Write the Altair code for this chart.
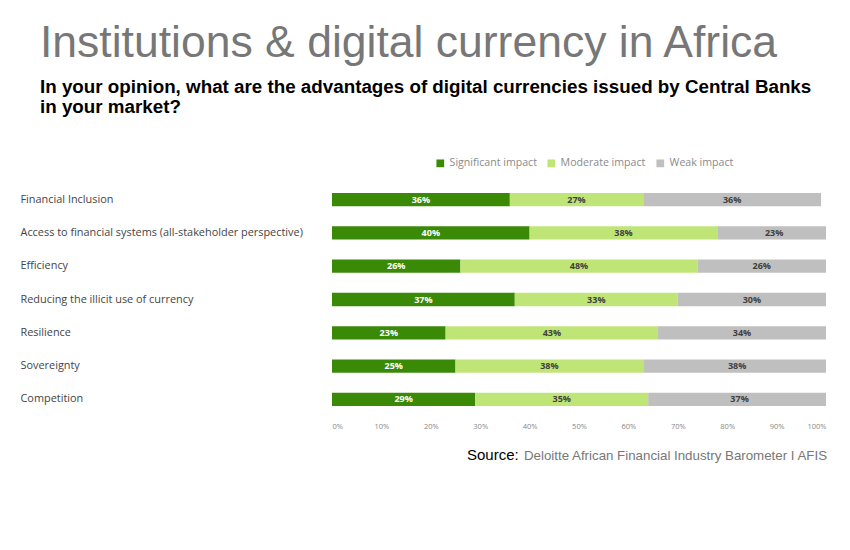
import altair as alt
import pandas as pd

categories = [
    "Financial Inclusion",
    "Access to financial systems (all-stakeholder perspective)",
    "Efficiency",
    "Reducing the illicit use of currency",
    "Resilience",
    "Sovereignty",
    "Competition",
]
series = ["Significant impact", "Moderate impact", "Weak impact"]
significant = [36, 40, 26, 37, 23, 25, 29]
moderate = [27, 38, 48, 33, 43, 38, 35]
weak = [36, 23, 26, 30, 34, 38, 37]
colors = ["#3a8a08", "#c0e577", "#bfbfbf"]
label_colors = ["#ffffff", "#404040", "#404040"]
x_ticks = [0, 10, 20, 30, 40, 50, 60, 70, 80, 90, 100]

rows = []
for i, cat in enumerate(categories):
    start = 0
    for s, vals, lc in zip(series, [significant, moderate, weak], label_colors):
        v = vals[i]
        rows.append({"category": cat, "series": s, "value": v,
                     "start": start, "end": start + v,
                     "mid": start + v / 2, "label": f"{v}%", "lc": lc})
        start += v
df = pd.DataFrame(rows)

W, H = 494, 233

xscale = alt.Scale(domain=[0, 100], nice=False)
yscale = alt.Scale(domain=categories, paddingInner=0.6, paddingOuter=0.3)

base = alt.Chart(df)

bars = base.mark_bar(clip=True).encode(
    x=alt.X("start:Q", scale=xscale,
            axis=alt.Axis(values=x_ticks, labelExpr="datum.value + '%'", title=None,
                          grid=False, domain=False, ticks=False, labelPadding=6,
                          labelFontSize=7.5, labelColor="#888888", labelFont="Open Sans")),
    x2="end:Q",
    y=alt.Y("category:N", scale=yscale, sort=categories,
            axis=alt.Axis(title=None, domain=False, ticks=False, labelAlign="left",
                          labelPadding=312, labelFontSize=10.9, labelColor="#444444",
                          labelFont="Open Sans", labelLimit=400)),
    color=alt.Color("series:N", scale=alt.Scale(domain=series, range=colors),
                    legend=alt.Legend(title=None, orient="none", direction="horizontal",
                                      legendX=103, legendY=-25, symbolType="square",
                                      symbolSize=60, symbolStrokeWidth=0,
                                      labelFontSize=10.6, labelColor="#8a8a8a",
                                      labelFont="Open Sans", columnPadding=9,
                                      labelOffset=4)),
)

labels = base.mark_text(font="Open Sans", fontSize=9, fontWeight="bold").encode(
    x=alt.X("mid:Q", scale=xscale),
    y=alt.Y("category:N", scale=yscale, sort=categories),
    text="label:N",
    color=alt.Color("lc:N", scale=None),
)

src1 = alt.Chart(pd.DataFrame({"t": ["Source:"]})).mark_text(
    align="left", baseline="alphabetic", font="Liberation Sans", fontSize=15, color="#000000"
).encode(x=alt.value(135), y=alt.value(277), text="t:N")
src2 = alt.Chart(pd.DataFrame({"t": ["Deloitte African Financial Industry Barometer I AFIS"]})).mark_text(
    align="left", baseline="alphabetic", font="Liberation Sans", fontSize=13.3, color="#777777"
).encode(x=alt.value(192), y=alt.value(277), text="t:N")

chart = alt.layer(bars, labels, src1, src2).properties(
    width=W, height=H,
    background="#ffffff",
    autosize=alt.AutoSizeParams(type="none"),
    padding={"left": 332, "top": 183, "right": 24, "bottom": 134},
    title=alt.TitleParams(
        text="Institutions & digital currency in Africa",
        subtitle=["In your opinion, what are the advantages of digital currencies issued by Central Banks",
                  "\u00a0in your market?"],
        anchor="start", frame="group", dx=-292, dy=-36,
        font="Liberation Sans", fontSize=44.5, fontWeight="normal", color="#777777",
        subtitleFont="Liberation Sans", subtitleFontSize=18.8, subtitleFontWeight="bold",
        subtitleColor="#000000", subtitlePadding=12, subtitleLineHeight=20,
    ),
).configure_view(stroke="transparent", strokeWidth=0)

chart.save("out.html", embed_options={"renderer": "svg", "actions": False})
